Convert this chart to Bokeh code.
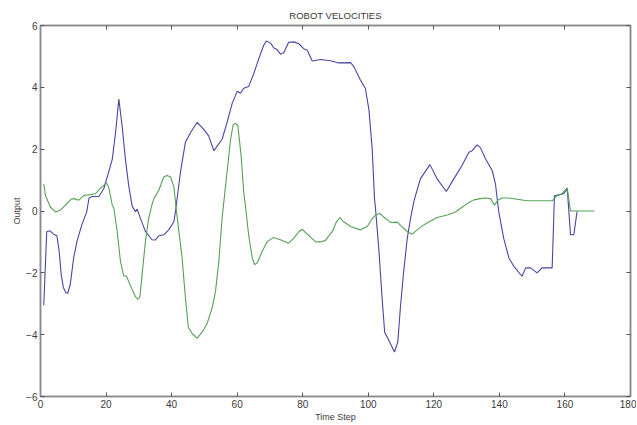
from bokeh.plotting import figure
from bokeh.models import Range1d, LinearAxis, FixedTicker
from bokeh.embed import file_html
from bokeh.resources import INLINE

# ---- data ----
blue_t = [1, 1.9, 2.9, 4, 5, 5.7, 6.3, 7, 7.7, 8.3, 9.1, 10.1, 11.1, 12.6, 14.1, 14.8, 15.8,
          17.8, 19.3, 20.8, 21.9, 22.9, 23.9, 24.9, 25.9, 26.9, 28, 29, 29.5, 30.5, 32, 34,
          35, 36.1, 37.6, 39.1, 40.7, 41.2, 42.7, 44.2, 45.8, 47.8, 49.8, 51.3, 52.9, 53.9,
          55.4, 56.9, 58.5, 60, 61, 62, 63.5, 65.1, 66.6, 68.1, 68.9, 70.2, 71.2, 72.2, 73.2,
          74.2, 75.7, 77.3, 78.8, 80.3, 81.4, 82.9, 85.4, 88.5, 91, 94.6, 95.6, 97.6, 99.1,
          100.2, 101.2, 101.9, 102.2, 103.2, 104.2, 105, 106.3, 108, 109, 109.8, 110.8,
          111.9, 112.9, 113.9, 114.4, 115.9, 118.8, 121, 123.8, 126.1, 128.6, 130.7, 131.7,
          133.2, 134.2, 135.8, 137.8, 138.8, 139.8, 141.3, 142.9, 144.4, 146.9, 148, 149.5,
          151.5, 153, 156.1, 156.8, 159.6, 160.7, 161.7, 162.7, 163.7]
blue_v = [-3.05, -0.67, -0.64, -0.75, -0.8, -1.3, -2.05, -2.48, -2.64, -2.66, -2.37, -1.52,
          -0.99, -0.45, -0.03, 0.42, 0.47, 0.47, 0.72, 1.26, 1.68, 2.54, 3.62, 2.75, 1.68,
          0.83, 0.14, -0.02, 0.06, -0.24, -0.66, -0.93, -0.94, -0.8, -0.77, -0.61, -0.35, 0.0,
          1.26, 2.22, 2.54, 2.87, 2.64, 2.43, 1.95, 2.1, 2.32, 2.86, 3.49, 3.87, 3.81, 3.97,
          4.03, 4.45, 4.93, 5.36, 5.5, 5.43, 5.27, 5.22, 5.07, 5.12, 5.46, 5.47, 5.41, 5.25,
          5.2, 4.85, 4.9, 4.86, 4.79, 4.8, 4.67, 4.24, 3.97, 3.28, 2.0, 0.4, 0.08, -1.2, -2.8,
          -3.92, -4.19, -4.56, -4.24, -3.12, -1.95, -0.88, -0.24, 0.3, 0.5, 1.04, 1.5, 1.04,
          0.63, 1.04, 1.47, 1.9, 1.95, 2.14, 2.05, 1.68, 1.31, 0.88, -0.02, -0.88, -1.52,
          -1.79, -2.11, -1.84, -1.84, -2.0, -1.84, -1.84, 0.49, 0.56, 0.72, -0.77, -0.77, -0.02]

green_t = [1, 1.5, 3, 4.6, 6.1, 7.6, 9.2, 10.2, 11.7, 13.2, 15.3, 16.8, 18.3, 20.1, 20.8,
           21.9, 22.4, 23.4, 24.4, 25.4, 26.2, 27.5, 29, 29.7, 30.3, 31, 32, 33, 34.1, 34.6,
           36.1, 37.6, 38.6, 39.7, 40.7, 41.5, 43.2, 44.2, 45.1, 46.3, 47.8, 49.3, 50.8, 52.4,
           53.4, 54.4, 55.4, 56.9, 58, 58.8, 59.5, 60.2, 61.2, 62, 62.5, 63.5, 64.6, 65.3,
           66.1, 67.6, 69.2, 71, 73.2, 75.7, 77.3, 78.8, 79.8, 81.4, 83.9, 85.4, 86.9, 89,
           90.3, 91.3, 92.5, 94.6, 97.6, 99.7, 100.9, 102.2, 103.5, 105, 106.8, 108.8, 110.5,
           112, 113.4, 114.9, 116.9, 118.9, 121, 124.1, 126.6, 128.1, 130.2, 132.2, 134.2,
           135.8, 137.3, 138.5, 139.5, 140.8, 142.9, 145.4, 148.5, 152.5, 156.1, 157.6, 159.1,
           160.7, 161.7, 162.7, 169]
green_v = [0.88, 0.5, 0.13, -0.03, 0.03, 0.19, 0.37, 0.4, 0.35, 0.5, 0.53, 0.56, 0.74, 0.91,
           0.77, 0.19, 0.08, -0.67, -1.63, -2.1, -2.1, -2.43, -2.78, -2.85, -2.8, -2.05, -0.99,
           -0.24, 0.24, 0.4, 0.67, 1.1, 1.15, 1.1, 0.77, -0.03, -1.52, -2.8, -3.76, -3.97,
           -4.11, -3.92, -3.65, -3.12, -2.59, -1.63, -0.24, 1.25, 2.32, 2.8, 2.83, 2.77, 1.79,
           0.61, 0.19, -0.77, -1.52, -1.73, -1.68, -1.31, -0.99, -0.86, -0.93, -1.04, -0.88,
           -0.67, -0.59, -0.75, -0.99, -1.0, -0.95, -0.67, -0.35, -0.21, -0.35, -0.5, -0.61,
           -0.5, -0.29, -0.13, -0.08, -0.22, -0.37, -0.36, -0.53, -0.68, -0.75, -0.61, -0.45,
           -0.33, -0.21, -0.13, -0.03, 0.08, 0.24, 0.36, 0.4, 0.42, 0.4, 0.19, 0.35, 0.42,
           0.42, 0.38, 0.33, 0.33, 0.33, 0.5, 0.56, 0.75, 0.0, 0.0, 0.0]

x_ticks = [0, 20, 40, 60, 80, 100, 120, 140, 160, 180]
y_ticks = [-6, -4, -2, 0, 2, 4, 6]

FONT = "Liberation Sans"
AXC = "#8a8a8a"
TXT = "#3a3a3a"

p = figure(width=636, height=424, output_backend="svg", toolbar_location=None,
           x_range=Range1d(0, 180), y_range=Range1d(-6, 6),
           title="ROBOT VELOCITIES", x_axis_label="Time Step", y_axis_label="Output",
           min_border_left=40, min_border_right=6, min_border_top=25, min_border_bottom=24)

bottom_axis = p.below[0]
left_axis = p.left[0]

p.title.align = "center"
p.title.text_font = FONT
p.title.text_font_size = "9.5px"
p.title.text_font_style = "normal"
p.title.text_color = TXT
p.title.standoff = 9

p.grid.visible = False
p.outline_line_color = AXC
p.outline_line_width = 1.5
p.background_fill_color = "white"
p.border_fill_color = "white"

p.line(blue_t, blue_v, line_color="#4646a6", line_width=1.1)
p.line(green_t, green_v, line_color="#55a255", line_width=1.1)

bottom_axis.ticker = FixedTicker(ticks=x_ticks)
left_axis.ticker = FixedTicker(ticks=y_ticks)

extra_top = LinearAxis(ticker=FixedTicker(ticks=x_ticks))
extra_right = LinearAxis(ticker=FixedTicker(ticks=y_ticks))
p.add_layout(extra_top, "above")
p.add_layout(extra_right, "right")

for ax in [bottom_axis, left_axis, extra_top, extra_right]:
    ax.axis_line_color = AXC
    ax.axis_line_width = 1.5
    ax.major_tick_line_color = "#555555"
    ax.major_tick_in = 4
    ax.major_tick_out = 0
    ax.minor_tick_line_color = None
    ax.major_label_text_font = FONT
    ax.major_label_text_font_size = "10px"
    ax.major_label_text_color = TXT
    ax.major_label_standoff = 3
    ax.axis_label_text_font = FONT
    ax.axis_label_text_font_size = "9px"
    ax.axis_label_text_font_style = "normal"
    ax.axis_label_text_color = TXT
    ax.axis_label_standoff = 1

extra_top.major_label_overrides = {t: "" for t in x_ticks}
extra_right.major_label_overrides = {t: "" for t in y_ticks}
extra_top.major_label_standoff = 0
extra_right.major_label_standoff = 0

open("out.html", "w").write(file_html(p, INLINE))
